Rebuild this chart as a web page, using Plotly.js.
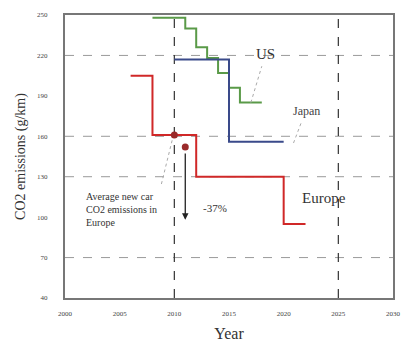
<!DOCTYPE html>
<html>
<head>
<meta charset="utf-8">
<script src="https://cdn.plot.ly/plotly-3.0.1.min.js"></script>
<style>html,body{margin:0;padding:0;background:#fff;}#chart{width:402px;height:349px;}</style>
</head>
<body>
<div id="chart"></div>
<script>
// Data
const europeYears = [2006, 2008, 2012, 2020, 2022];
const europeValues = [205, 161, 130, 95, 95];
const japanYears = [2010, 2015, 2020];
const japanValues = [217, 156, 156];
const usYears = [2008, 2011, 2012, 2013, 2014, 2015, 2016, 2018];
const usValues = [248, 240, 226, 218, 207, 196, 185, 185];
const dotYears = [2010, 2011];
const dotValues = [161, 152];
const arrowFrom = 152, arrowTo = 98, arrowYear = 2011;
const hGridValues = [220, 160, 130, 70];
const vGridYears = [2010, 2025];
const yTicks = [40, 70, 100, 130, 160, 190, 220, 250];
const xTicks = [2000, 2005, 2010, 2015, 2020, 2025, 2030];

const serif = 'Liberation Serif, Times New Roman, serif';

const traces = [
  {x: usYears, y: usValues, mode: 'lines', line: {shape: 'hv', color: '#5a9a48', width: 2}, hoverinfo: 'skip'},
  {x: japanYears, y: japanValues, mode: 'lines', line: {shape: 'hv', color: '#3a4a8a', width: 2}, hoverinfo: 'skip'},
  {x: europeYears, y: europeValues, mode: 'lines', line: {shape: 'hv', color: '#d02828', width: 2}, hoverinfo: 'skip'},
  {x: dotYears, y: dotValues, mode: 'markers', marker: {color: '#9a2a2a', size: 7}, hoverinfo: 'skip'}
];

const shapes = [];
hGridValues.forEach(v => shapes.push({type: 'line', xref: 'paper', yref: 'y', x0: 0, x1: 1, y0: v, y1: v,
  line: {color: '#9a9a9a', width: 1, dash: 'dash'}, layer: 'below'}));
vGridYears.forEach(v => shapes.push({type: 'line', xref: 'x', yref: 'paper', x0: v, x1: v, y0: 0, y1: 1,
  line: {color: '#333', width: 1.2, dash: 'dash'}, layer: 'below'}));
// dotted leader lines
const leaders = [
  [2017.0, 185, 2018.0, 212],  // US
  [2020.9, 155, 2021.6, 170],  // Japan
  [2009.8, 157, 2008.8, 124]   // average text
];
leaders.forEach(l => shapes.push({type: 'line', xref: 'x', yref: 'y', x0: l[0], y0: l[1], x1: l[2], y1: l[3],
  line: {color: '#aaa', width: 1, dash: 'dot'}}));

const annotations = [
  {x: arrowYear, y: arrowTo, ax: arrowYear, ay: arrowFrom, axref: 'x', ayref: 'y', xref: 'x', yref: 'y',
   text: '', showarrow: true, arrowhead: 2, arrowsize: 1, arrowwidth: 1.3, arrowcolor: '#222', standoff: 0, startstandoff: 5},
  {x: 2012.4, y: 107, xref: 'x', yref: 'y', text: '-37%', showarrow: false, xanchor: 'left',
   font: {family: serif, size: 11, color: '#333'}},
  {x: 2001.7, y: 106, xref: 'x', yref: 'y', text: 'Average new car<br>CO2 emissions in<br>Europe', showarrow: false,
   xanchor: 'left', align: 'left', font: {family: serif, size: 10, color: '#333'}},
  {x: 2017.3, y: 221, xref: 'x', yref: 'y', text: 'US', showarrow: false, xanchor: 'left',
   font: {family: serif, size: 15, color: '#333'}},
  {x: 2020.7, y: 179, xref: 'x', yref: 'y', text: 'Japan', showarrow: false, xanchor: 'left',
   font: {family: serif, size: 12, color: '#444'}},
  {x: 2021.5, y: 114, xref: 'x', yref: 'y', text: 'Europe', showarrow: false, xanchor: 'left',
   font: {family: serif, size: 15, color: '#333'}}
];

const layout = {
  width: 402, height: 349,
  margin: {l: 65, r: 9, t: 15, b: 51},
  paper_bgcolor: '#fff', plot_bgcolor: '#fff',
  showlegend: false,
  font: {family: serif, color: '#333'},
  xaxis: {range: [2000, 2030], tickvals: xTicks, ticktext: xTicks.map(String), showgrid: false, zeroline: false,
    showline: true, mirror: true, linecolor: '#777', linewidth: 2, ticks: '', ticklabelstandoff: 8,
    tickfont: {family: serif, size: 7, color: '#444'},
    title: {text: 'Year', font: {family: serif, size: 16, color: '#333'}, standoff: 10}},
  yaxis: {range: [40, 250], tickvals: yTicks, ticktext: yTicks.map(String), showgrid: false, zeroline: false,
    showline: true, mirror: true, linecolor: '#777', linewidth: 2, ticks: '', ticklabelstandoff: 14,
    tickfont: {family: serif, size: 7, color: '#444'},
    title: {text: 'CO2 emissions (g/km)', font: {family: serif, size: 14, color: '#333'}, standoff: 8}},
  shapes: shapes,
  annotations: annotations
};

Plotly.newPlot('chart', traces, layout, {displayModeBar: false, staticPlot: true});
</script>
</body>
</html>
